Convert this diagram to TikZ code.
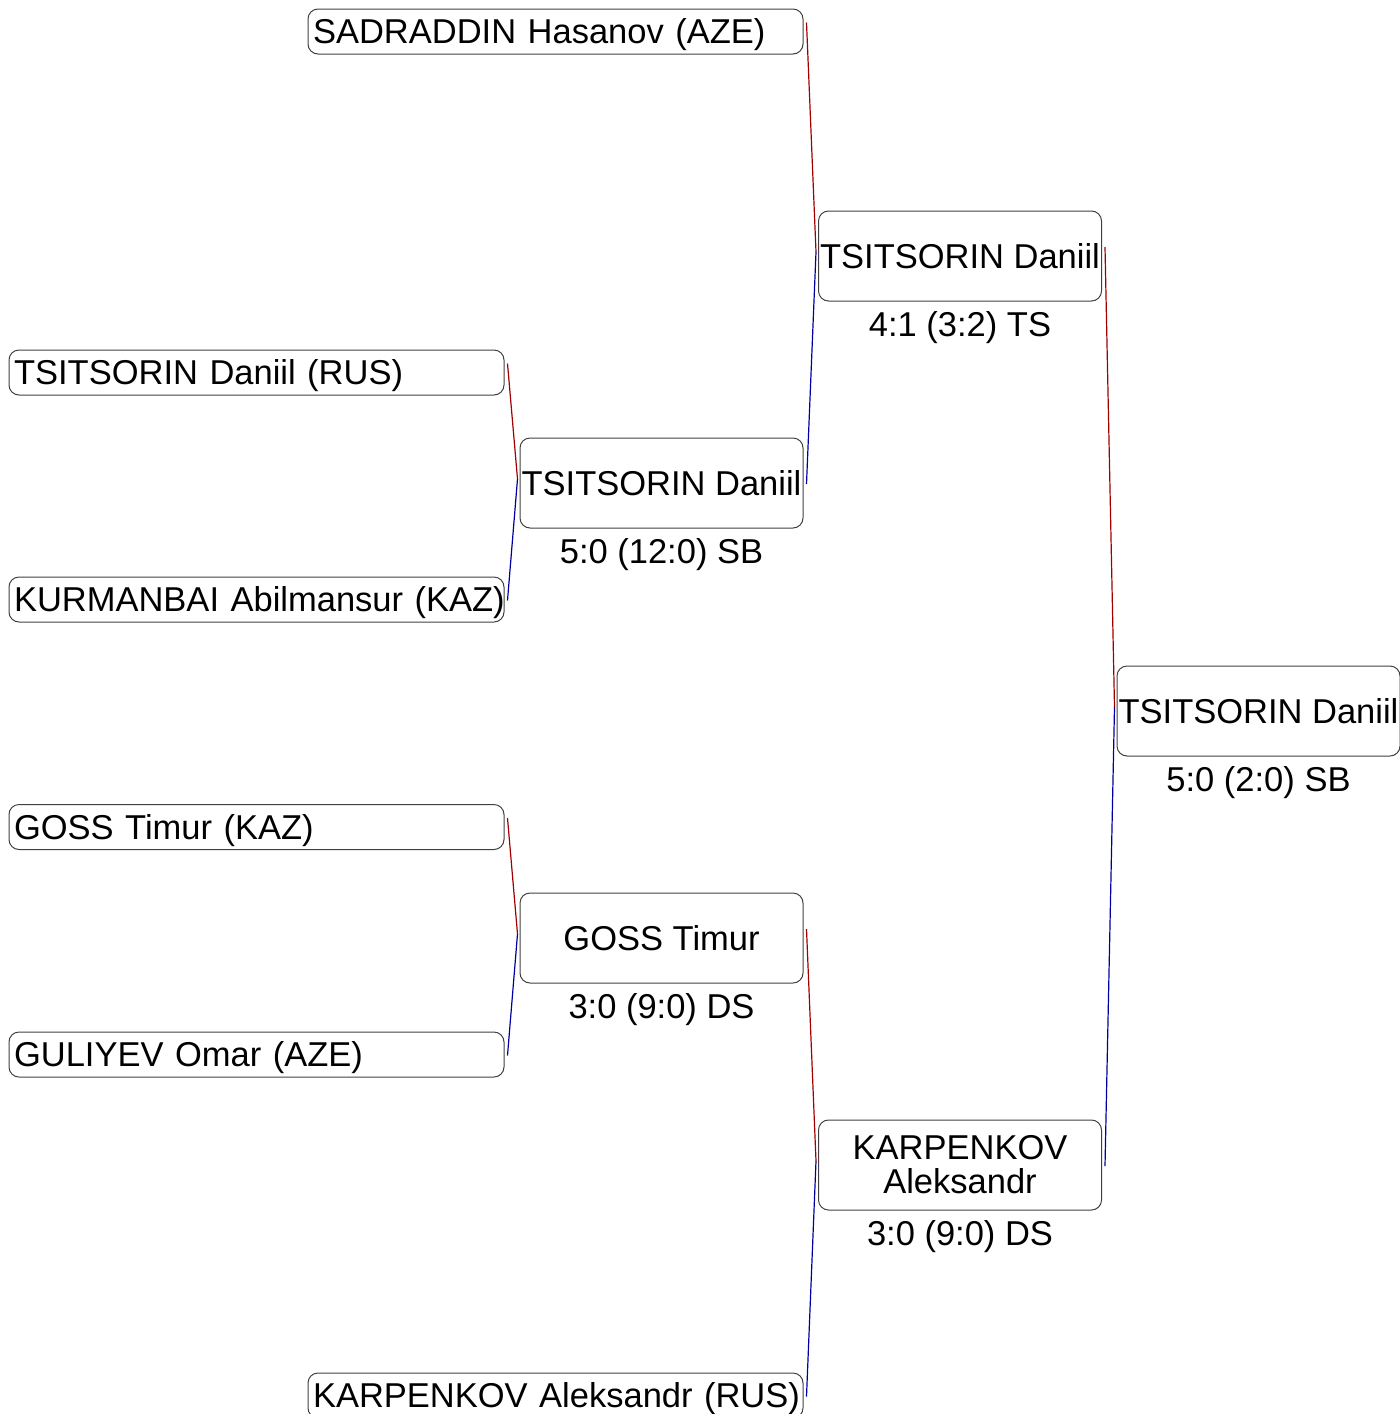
\documentclass[tikz,border=0pt]{standalone}
\usepackage{fontspec}
\setmainfont{Liberation Sans}
\usetikzlibrary{positioning,calc}
\definecolor{winred}{RGB}{160,0,0}
\definecolor{loseblue}{RGB}{0,0,160}

\begin{document}
\begin{tikzpicture}[
  x=1pt,y=-1pt,
  every node/.style={font=\fontsize{34.5}{34}\selectfont},
  entrant/.style={draw=black!75,line width=1pt,rounded corners=10pt,inner xsep=5pt,inner ysep=0pt,
    text width=485pt,align=left,minimum height=45pt,text height=24.7pt,text depth=0pt,
    execute at begin node=\hbox\bgroup,execute at end node=\egroup},
  bout/.style={draw=black!75,line width=1pt,rounded corners=10pt,inner sep=0pt,align=center,
    minimum width=283pt,minimum height=90pt},
  oneline/.style={text height=24.7pt,text depth=0pt},
  score/.style={inner sep=0pt,text height=24.7pt,text depth=0pt},
  redline/.style={winred,line width=1.2pt},
  blueline/.style={loseblue,line width=1.2pt}
]
  \useasboundingbox (0,0) rectangle (1400,1414);
  % first round
  \node[entrant] (e1) at (555.5,31.5) {SADRADDIN Hasanov (AZE)};
  \node[entrant] (e2) at (256.5,372.5) {TSITSORIN Daniil (RUS)};
  \node[entrant] (e3) at (256.5,599.5) {KURMANBAI Abilmansur (KAZ)};
  \node[entrant] (e4) at (256.5,827) {GOSS Timur (KAZ)};
  \node[entrant] (e5) at (256.5,1054.5) {GULIYEV Omar (AZE)};
  \node[entrant] (e6) at (555.5,1395.5) {KARPENKOV Aleksandr (RUS)};
  % bouts
  \node[bout,oneline] (m1) at (661.5,483) {TSITSORIN Daniil};
  \node[score,below=10pt of m1] (s1) {5:0 (12:0) SB};
  \node[bout,oneline] (m2) at (661.5,938) {GOSS Timur};
  \node[score,below=10pt of m2] (s2) {3:0 (9:0) DS};
  \node[bout,oneline] (m3) at (960,256) {TSITSORIN Daniil};
  \node[score,below=10pt of m3] (s3) {4:1 (3:2) TS};
  \node[bout] (m4) at (960,1165) {KARPENKOV\\Aleksandr};
  \node[score,below=10pt of m4] (s4) {3:0 (9:0) DS};
  \node[bout,oneline] (m5) at (1258.5,711) {TSITSORIN Daniil};
  \node[score,below=10pt of m5] (s5) {5:0 (2:0) SB};
  % connectors
  \foreach \a/\b/\m in {e2/e3/m1,e4/e5/m2,e1/m1/m3,m2/e6/m4,m3/m4/m5}{
    \coordinate (j-\m) at ($(\m.west)+(-2,-4)$);
    \draw[redline] ($(\a.east)+(3,-9)$) -- (j-\m);
    \draw[blueline] ($(\b.east)+(3,1)$) -- (j-\m);
  }
\end{tikzpicture}
\end{document}
